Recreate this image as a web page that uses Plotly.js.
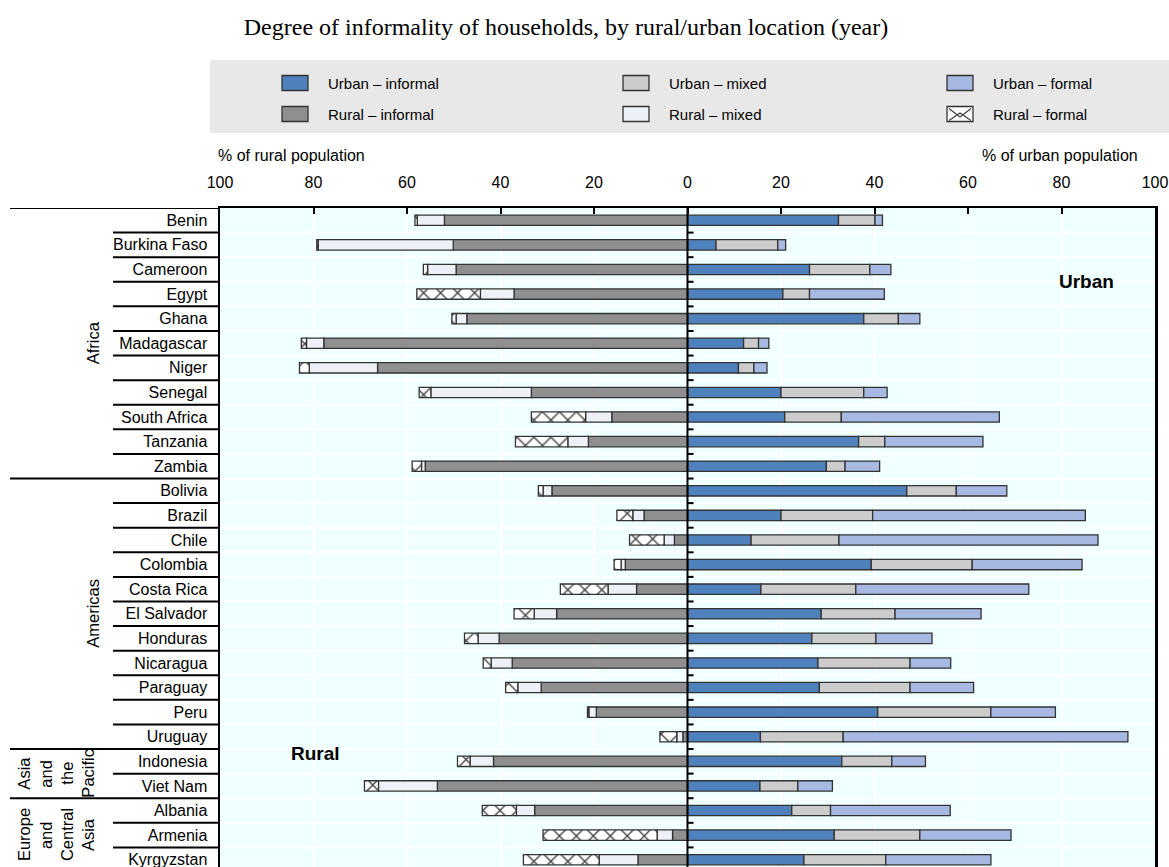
<!DOCTYPE html>
<html><head><meta charset="utf-8">
<script src="https://cdn.plot.ly/plotly-3.0.1.min.js"></script>
<style>html,body{margin:0;padding:0;overflow:hidden;background:#fff}#chart{width:1169px;height:900px}</style>
</head><body><div id="chart"></div>
<script>
// ---------------- DATA ----------------
const countries = ['Benin','Burkina Faso','Cameroon','Egypt','Ghana','Madagascar','Niger','Senegal','South Africa','Tanzania','Zambia',
  'Bolivia','Brazil','Chile','Colombia','Costa Rica','El Salvador','Honduras','Nicaragua','Paraguay','Peru','Uruguay',
  'Indonesia','Viet Nam','Albania','Armenia','Kyrgyzstan'];
const regionLines = [['Africa'],['Americas'],['Asia','and','the','Pacific'],['Europe','and','Central','Asia']];
const regionSizes = [11, 11, 2, 3];

// Urban shares (% of urban population)
const urbanInformal = [32.3,6.1,26.1,20.4,37.7,12.0,10.9,20.0,20.8,36.6,29.7, 46.9,20.0,13.6,39.3,15.7,28.6,26.6,27.9,28.2,40.7,15.6, 33.0,15.5, 22.3,31.4,24.9];
const urbanMixed    = [7.8,13.2,12.9,5.7,7.4,3.2,3.3,17.7,12.1,5.6,4.0, 10.6,19.6,18.8,21.6,20.3,15.8,13.7,19.7,19.4,24.2,17.7, 10.7,8.1, 8.3,18.3,17.5];
const urbanFormal   = [1.6,1.7,4.5,16.0,4.6,2.2,2.8,5.0,33.8,21.0,7.4, 10.8,45.5,55.4,23.5,37.0,18.4,12.0,8.7,13.6,13.8,60.9, 7.2,7.4, 25.6,19.5,22.5];
// Rural shares (% of rural population)
const ruralInformal = [52.0,50.1,49.5,37.1,47.2,77.8,66.3,33.4,16.2,21.2,56.1, 29.0,9.3,2.8,13.3,10.9,28.0,40.3,37.5,31.3,19.5,1.0, 41.5,53.5, 32.7,3.2,10.6];
const ruralMixed    = [5.8,28.9,6.1,7.2,2.3,3.7,14.6,21.5,5.6,4.4,0.8, 1.9,2.4,2.2,0.9,6.1,4.8,4.5,4.5,5.0,1.6,1.3, 5.0,12.6, 3.9,3.3,8.3];
const ruralFormal   = [0.5,0.3,0.9,13.6,0.9,1.1,2.1,2.5,11.6,11.2,2.0, 1.0,3.4,7.4,1.5,10.2,4.3,2.9,1.7,2.6,0.3,3.6, 2.7,3.0, 7.3,24.4,16.2];

const tickVals = [-100,-80,-60,-40,-20,0,20,40,60,80,100];
const tickText = ['100','80','60','40','20','0','20','40','60','80','100'];
const seriesNames = ['Urban – informal','Urban – mixed','Urban – formal','Rural – informal','Rural – mixed','Rural – formal'];

// ---------------- STYLE ----------------
const SANS = '"Liberation Sans",Arial,Helvetica,sans-serif';
const SERIF = '"Liberation Serif","Times New Roman",serif';
const colors = ['#4f81bd','#cccccc','#a7b8e3','#8f8f8f','#eef0f8','#ffffff'];
const edge = {color:'#333333', width:1.3};
const L = 220, R = 1155, T = 208, H = 900, B = 28;
const PW = R - L, PH = H - T - B;
const PX = p => (p - L) / PW;
const PY = p => (H - B - p) / PH;

const neg = a => a.map(v => -v);
const mk = (name, x, i, extra) => Object.assign({
  type:'bar', orientation:'h', name:name, y:countries, x:x, width:0.42,
  marker:{color:colors[i], line:edge}, showlegend:false, hoverinfo:'x+y'
}, extra || {});

const traces = [
  mk(seriesNames[0], urbanInformal, 0),
  mk(seriesNames[1], urbanMixed, 1),
  mk(seriesNames[2], urbanFormal, 2),
  mk(seriesNames[3], neg(ruralInformal), 3),
  mk(seriesNames[4], neg(ruralMixed), 4),
  mk(seriesNames[5], neg(ruralFormal), 5, {marker:{color:'#ffffff', line:edge,
     pattern:{shape:'x', fgcolor:'#444444', bgcolor:'#ffffff', size:12, solidity:0.22}}})
];

const shapes = [];
const annotations = [];
const n = countries.length;

// white horizontal grid between rows + little ticks on the zero line
for (let i = 0; i < n; i++) {
  shapes.push({type:'line', layer:'below', xref:'paper', yref:'y', x0:0, x1:1, y0:i+0.5, y1:i+0.5, line:{color:'#ffffff', width:2}});
  shapes.push({type:'line', layer:'above', xref:'x', yref:'y', x0:0, x1:1.3, y0:i+0.5, y1:i+0.5, line:{color:'#000', width:2}});
}
// zero line above bars
shapes.push({type:'line', layer:'above', xref:'x', yref:'paper', x0:0, x1:0, y0:0, y1:1, line:{color:'#000', width:2}});

// left label table lines
const groupEnds = [];
let acc = 0;
regionSizes.forEach(s => { acc += s; groupEnds.push(acc - 0.5); });
shapes.push({type:'line', xref:'paper', yref:'y', x0:PX(10), x1:0, y0:-0.5, y1:-0.5, line:{color:'#000', width:2}});
for (let i = 0; i < n; i++) {
  const yb = i + 0.5;
  const isGroup = groupEnds.indexOf(yb) >= 0;
  shapes.push({type:'line', xref:'paper', yref:'y', x0:PX(isGroup ? 10 : 113), x1:0, y0:yb, y1:yb, line:{color:'#000', width:2}});
}
// region labels
const lineX1 = [93];
const lineXn = [24, 46, 67, 88];
let start = 0;
regionLines.forEach((lines, g) => {
  const yc = start + (regionSizes[g] - 1) / 2;
  start += regionSizes[g];
  lines.forEach((t, k) => {
    const xp = lines.length === 1 ? lineX1[0] : lineXn[k];
    annotations.push({text:t, xref:'paper', yref:'y', x:PX(xp), y:yc, xanchor:'center', yanchor:'middle',
      textangle:-90, showarrow:false, font:{family:SANS, size:16.5, color:'#000'}});
  });
});

// legend (drawn)
shapes.push({type:'rect', xref:'paper', yref:'paper', x0:PX(210), x1:PX(1169), y0:PY(133), y1:PY(60), fillcolor:'#e8e8e8', line:{width:0}, layer:'below'});
const legColX = [282, 623, 947];
const legRowY = [83, 114];
const symW = 26, symH = 15;
seriesNames.forEach((nm, k) => {
  const col = k % 3, row = Math.floor(k / 3);
  const x0 = legColX[col], yc = legRowY[row];
  shapes.push({type:'rect', xref:'paper', yref:'paper', x0:PX(x0), x1:PX(x0+symW), y0:PY(yc+symH/2), y1:PY(yc-symH/2),
    fillcolor:colors[k], line:{color:'#333', width:1.3}});
  if (k === 5) {
    shapes.push({type:'path', xref:'paper', yref:'paper',
      path:`M${PX(x0+2)},${PY(yc-symH/2+2)} L${PX(x0+symW/2)},${PY(yc+3)} L${PX(x0+symW-2)},${PY(yc-symH/2+2)} M${PX(x0+2)},${PY(yc+symH/2-1)} L${PX(x0+symW/2)},${PY(yc-1)} L${PX(x0+symW-2)},${PY(yc+symH/2-1)}`,
      line:{color:'#444', width:1.3}});
  }
  annotations.push({text:nm, xref:'paper', yref:'paper', x:PX(x0+symW+18), y:PY(yc), xanchor:'left', yanchor:'middle',
    showarrow:false, font:{family:SANS, size:15, color:'#000'}});
});

// axis captions & panel labels
annotations.push({text:'% of rural population', xref:'paper', yref:'paper', x:PX(216), y:PY(156), xanchor:'left', yanchor:'middle', showarrow:false, font:{family:SANS, size:16, color:'#000'}});
annotations.push({text:'% of urban population', xref:'paper', yref:'paper', x:PX(1140), y:PY(156), xanchor:'right', yanchor:'middle', showarrow:false, font:{family:SANS, size:16, color:'#000'}});
annotations.push({text:'<b>Urban</b>', xref:'paper', yref:'paper', x:PX(1086), y:PY(281), xanchor:'center', yanchor:'middle', showarrow:false, font:{family:SANS, size:19, color:'#000'}});
annotations.push({text:'<b>Rural</b>', xref:'paper', yref:'paper', x:PX(315), y:PY(753), xanchor:'center', yanchor:'middle', showarrow:false, font:{family:SANS, size:19, color:'#000'}});

const layout = {
  width:1169, height:H,
  margin:{l:L, r:1169-R, t:T, b:B, pad:0},
  paper_bgcolor:'#ffffff', plot_bgcolor:'#f0ffff',
  barmode:'relative', showlegend:false,
  title:{text:'Degree of informality of households, by rural/urban location (year)', xref:'container', yref:'container',
    x:566/1169, xanchor:'center', y:1-27/H, yanchor:'middle', font:{family:SERIF, size:24, color:'#000'}},
  xaxis:{range:[-100,100], side:'top', tickvals:tickVals, ticktext:tickText, ticks:'inside', ticklen:6, tickwidth:2, tickcolor:'#000',
    showline:true, linecolor:'#000', linewidth:2, showgrid:true, gridcolor:'#ffffff', gridwidth:2, zeroline:false,
    tickfont:{family:SANS, size:16, color:'#000'}, ticklabelstandoff:12, ticklabeloverflow:'allow', fixedrange:true},
  yaxis:{type:'category', categoryorder:'array', categoryarray:countries, range:[n-0.5, -0.5], autorange:false,
    showline:true, mirror:true, linecolor:'#000', linewidth:2.5, showgrid:false, zeroline:false, ticks:'',
    tickfont:{family:SANS, size:16, color:'#000'}, ticklabelstandoff:7, fixedrange:true},
  shapes:shapes, annotations:annotations
};
Plotly.newPlot('chart', traces, layout, {displayModeBar:false, staticPlot:true});
</script></body></html>
